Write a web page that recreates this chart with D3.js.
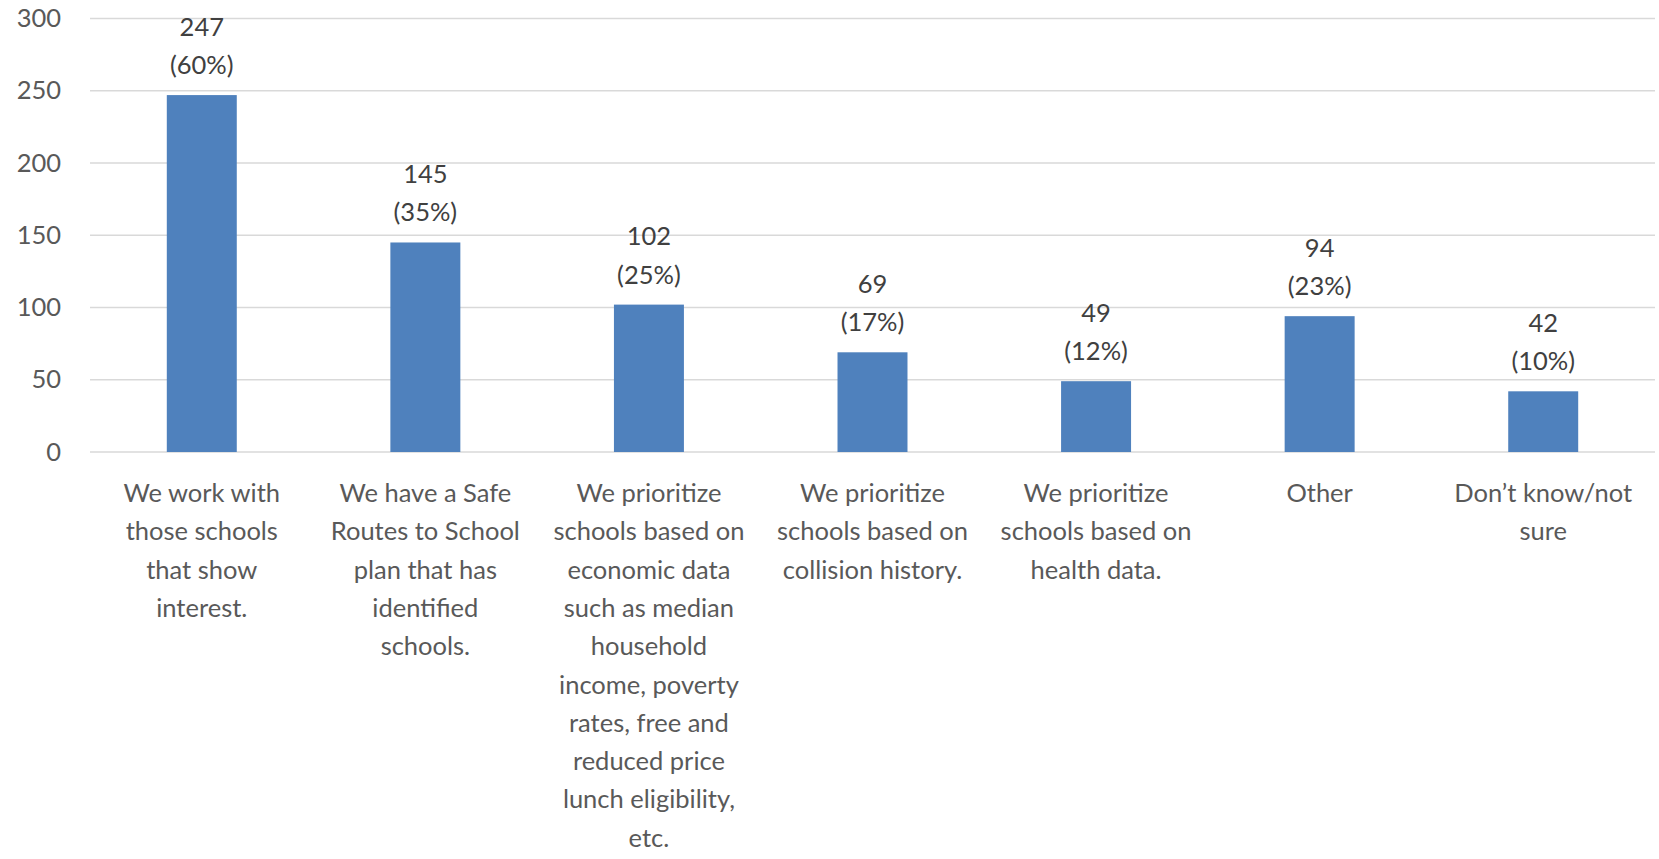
<!DOCTYPE html>
<html>
<head>
<meta charset="utf-8">
<script src="https://cdn.jsdelivr.net/npm/d3@7"></script>
<style>
  html, body { margin: 0; padding: 0; background: #fff; }
  svg { display: block; }
  text { font-family: Lato, "Open Sans", sans-serif; }
</style>
</head>
<body>
<svg id="chart" width="1659" height="859"></svg>
<script>
// Survey responses: how schools are selected
const categories = [
  "We work with\nthose schools\nthat show\ninterest.",
  "We have a Safe\nRoutes to School\nplan that has\nidentified\nschools.",
  "We prioritize\nschools based on\neconomic data\nsuch as median\nhousehold\nincome, poverty\nrates, free and\nreduced price\nlunch eligibility,\netc.",
  "We prioritize\nschools based on\ncollision history.",
  "We prioritize\nschools based on\nhealth data.",
  "Other",
  "Don\u2019t know/not\nsure"
];
const counts = [247, 145, 102, 69, 49, 94, 42];
const percents = ["60%", "35%", "25%", "17%", "12%", "23%", "10%"];
const yTicks = [0, 50, 100, 150, 200, 250, 300];

const svg = d3.select("#chart");
const margin = { left: 90, right: 4, top: 18.5, bottom: 407 };
const width = 1659 - margin.left - margin.right;
const height = 859 - margin.top - margin.bottom;
const lineGap = 38.3;

const g = svg.append("g").attr("transform", `translate(${margin.left},${margin.top})`);

const x = d3.scaleBand()
  .domain(categories)
  .range([0, width])
  .paddingInner(0.687)
  .paddingOuter(0.687 / 2);

const y = d3.scaleLinear().domain([0, 300]).range([height, 0]);

// gridlines
g.append("g")
  .selectAll("line")
  .data(yTicks)
  .join("line")
  .attr("x1", 0).attr("x2", width)
  .attr("y1", d => y(d)).attr("y2", d => y(d))
  .attr("stroke", "#d9d9d9")
  .attr("stroke-width", 1.5);

// y axis labels
const yAxis = d3.axisLeft(y).tickValues(yTicks).tickSize(0).tickPadding(29);
g.append("g").call(yAxis)
  .call(s => s.select(".domain").remove())
  .selectAll("text")
  .attr("fill", "#595959")
  .attr("font-size", 25.5)
  .style("font-family", "Lato, sans-serif");

// bars
g.append("g")
  .selectAll("rect")
  .data(counts)
  .join("rect")
  .attr("x", (d, i) => x(categories[i]))
  .attr("width", x.bandwidth())
  .attr("y", d => y(d))
  .attr("height", d => y(0) - y(d))
  .attr("fill", "#4f81bd");

// value labels: count on top, share below
const labels = g.append("g")
  .selectAll("text")
  .data(counts)
  .join("text")
  .attr("text-anchor", "middle")
  .attr("fill", "#404040")
  .attr("font-size", 25.5)
  .attr("x", (d, i) => x(categories[i]) + x.bandwidth() / 2)
  .attr("y", d => y(d) - 21);
labels.append("tspan")
  .attr("x", function () { return d3.select(this.parentNode).attr("x"); })
  .attr("dy", -lineGap)
  .text(d => d);
labels.append("tspan")
  .attr("x", function () { return d3.select(this.parentNode).attr("x"); })
  .attr("dy", lineGap)
  .text((d, i) => `(${percents[i]})`);

// category labels
const cat = g.append("g")
  .selectAll("text")
  .data(categories)
  .join("text")
  .attr("text-anchor", "middle")
  .attr("fill", "#595959")
  .attr("font-size", 25.5)
  .attr("x", d => x(d) + x.bandwidth() / 2)
  .attr("y", height + 50);
cat.each(function (d) {
  const t = d3.select(this);
  const cx = t.attr("x");
  d.split("\n").forEach((line, j) => {
    t.append("tspan").attr("x", cx).attr("dy", j === 0 ? 0 : lineGap).text(line);
  });
});
</script>
</body>
</html>
